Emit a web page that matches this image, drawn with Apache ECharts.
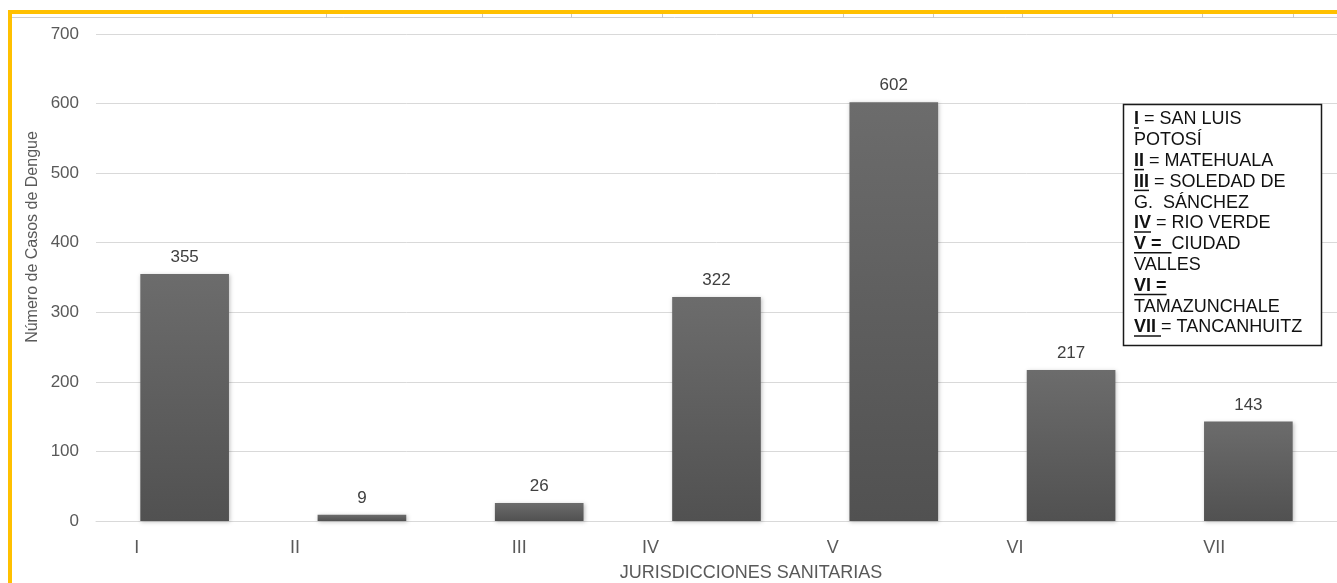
<!DOCTYPE html>
<html>
<head>
<meta charset="utf-8">
<script src="https://cdn.jsdelivr.net/npm/echarts@6/dist/echarts.min.js"></script>
<style>
  html, body { margin: 0; padding: 0; background: #ffffff; }
  #chart { width: 1337px; height: 583px; }
</style>
</head>
<body>
<div id="chart"></div>
<script>
// Dengue cases per health jurisdiction (San Luis Potosí)
const jurisdictions = ['I', 'II', 'III', 'IV', 'V', 'VI', 'VII'];
const dengueCases = [355, 9, 26, 322, 602, 217, 143];
const yMin = 0;
const yMax = 700;
const yStep = 100;

// Key box: each line is a list of [text, bold, underline] segments
const keyLines = [
  [['I', true, true], [' = SAN LUIS', false, false]],
  [['POTOSÍ', false, false]],
  [['II', true, true], [' = MATEHUALA', false, false]],
  [['III', true, true], [' = SOLEDAD DE', false, false]],
  [['G.  SÁNCHEZ', false, false]],
  [['IV', true, true], [' = RIO VERDE', false, false]],
  [['V =  ', true, true], ['CIUDAD', false, false]],
  [['VALLES', false, false]],
  [['VI =', true, true]],
  [['TAMAZUNCHALE', false, false]],
  [['VII ', true, true], ['= TANCANHUITZ', false, false]]
];

// Horizontal nudge of each category label (px), styling only
const labelShift = [-48, -67, -20, -66, -61, -56, -34];

const FONT = '"Liberation Sans", Arial, sans-serif';
const TEXT_GREY = '#595959';

const chart = echarts.init(document.getElementById('chart'), null, { renderer: 'canvas' });

// Rich styles that shift each category label sideways
const rich = {};
labelShift.forEach((dx, i) => {
  rich['l' + i] = {
    fontFamily: FONT,
    fontSize: 18,
    color: TEXT_GREY,
    padding: dx < 0 ? [0, -2 * dx, 0, 0] : [0, 0, 0, 2 * dx]
  };
});

// Measure text for the key underlines
const measureCtx = document.createElement('canvas').getContext('2d');
function textWidth(txt, bold) {
  measureCtx.font = (bold ? 'bold ' : '') + '18px ' + FONT;
  return measureCtx.measureText(txt).width;
}

const keyElements = [];
const keyLeft = 1123, keyTop = 104, keyRight = 1321, keyBottom = 345;
keyElements.push({
  type: 'rect',
  shape: { x: keyLeft + 0.5, y: keyTop + 0.5, width: keyRight - keyLeft, height: keyBottom - keyTop },
  style: { fill: '#ffffff', stroke: '#1a1a1a', lineWidth: 1.5 },
  z: 10
});
const textX0 = 1134, lineY0 = 119.5, lineStep = 20.8;
keyLines.forEach((segs, li) => {
  let x = textX0;
  const y = lineY0 + li * lineStep;
  segs.forEach(([txt, bold, under]) => {
    keyElements.push({
      type: 'text',
      x: x, y: y,
      style: {
        text: txt,
        fill: '#111111',
        font: (bold ? 'bold ' : '') + '18px ' + FONT,
        align: 'left',
        verticalAlign: 'middle'
      },
      z: 11
    });
    const w = textWidth(txt, bold);
    if (under) {
      keyElements.push({
        type: 'line',
        shape: { x1: x, y1: y + 8.5, x2: x + w, y2: y + 8.5 },
        style: { stroke: '#111111', lineWidth: 1.5 },
        z: 11
      });
    }
    x += w;
  });
});

// Frame decoration along the top and left
const frameTicks = [326, 482, 571, 662, 752, 843, 933, 1022, 1112, 1202, 1293];
const frameElements = [
  { type: 'line', shape: { x1: 12, y1: 17.5, x2: 1337, y2: 17.5 }, style: { stroke: '#cfcfcf', lineWidth: 1 } },
  { type: 'rect', shape: { x: 8, y: 10, width: 1329, height: 4 }, style: { fill: '#FFC000' }, z: 5 },
  { type: 'rect', shape: { x: 8, y: 10, width: 4, height: 573 }, style: { fill: '#FFC000' }, z: 5 }
];
frameTicks.forEach(tx => {
  frameElements.push({
    type: 'line',
    shape: { x1: tx + 0.5, y1: 14, x2: tx + 0.5, y2: 18 },
    style: { stroke: '#c8c8c8', lineWidth: 1 }
  });
});

const option = {
  backgroundColor: '#ffffff',
  animation: false,
  grid: { left: 96, right: 0, top: 34, bottom: 62, containLabel: false },
  xAxis: {
    type: 'category',
    data: jurisdictions,
    axisLine: { show: true, lineStyle: { color: '#d9d9d9', width: 1 } },
    axisTick: { show: false },
    axisLabel: {
      interval: 0,
      hideOverlap: false,
      margin: 18,
      formatter: (val, idx) => '{l' + idx + '|' + val + '}',
      rich: rich
    }
  },
  yAxis: {
    type: 'value',
    min: yMin,
    max: yMax,
    interval: yStep,
    axisLine: { show: false },
    axisTick: { show: false },
    splitLine: { lineStyle: { color: '#d9d9d9', width: 1 } },
    axisLabel: {
      margin: 17,
      fontFamily: FONT,
      fontSize: 17,
      color: TEXT_GREY
    }
  },
  series: [{
    type: 'bar',
    data: dengueCases,
    barWidth: '50%',
    itemStyle: {
      color: new echarts.graphic.LinearGradient(0, 0, 0, 1, [
        { offset: 0, color: '#6c6c6c' },
        { offset: 1, color: '#515151' }
      ]),
      shadowColor: 'rgba(0,0,0,0.25)',
      shadowBlur: 4,
      shadowOffsetX: 1,
      shadowOffsetY: 1
    },
    label: {
      show: true,
      position: 'top',
      distance: 8,
      fontFamily: FONT,
      fontSize: 17,
      color: '#404040'
    }
  }],
  graphic: [
    {
      type: 'text',
      x: 33, y: 237,
      rotation: Math.PI / 2,
      style: {
        text: 'Número de Casos de Dengue',
        fill: TEXT_GREY,
        font: '16px ' + FONT,
        align: 'center',
        verticalAlign: 'middle'
      }
    },
    {
      type: 'text',
      x: 751, y: 573,
      style: {
        text: 'JURISDICCIONES SANITARIAS',
        fill: TEXT_GREY,
        font: '18px ' + FONT,
        align: 'center',
        verticalAlign: 'middle'
      }
    }
  ].concat(frameElements, keyElements)
};

chart.setOption(option);
</script>
</body>
</html>
